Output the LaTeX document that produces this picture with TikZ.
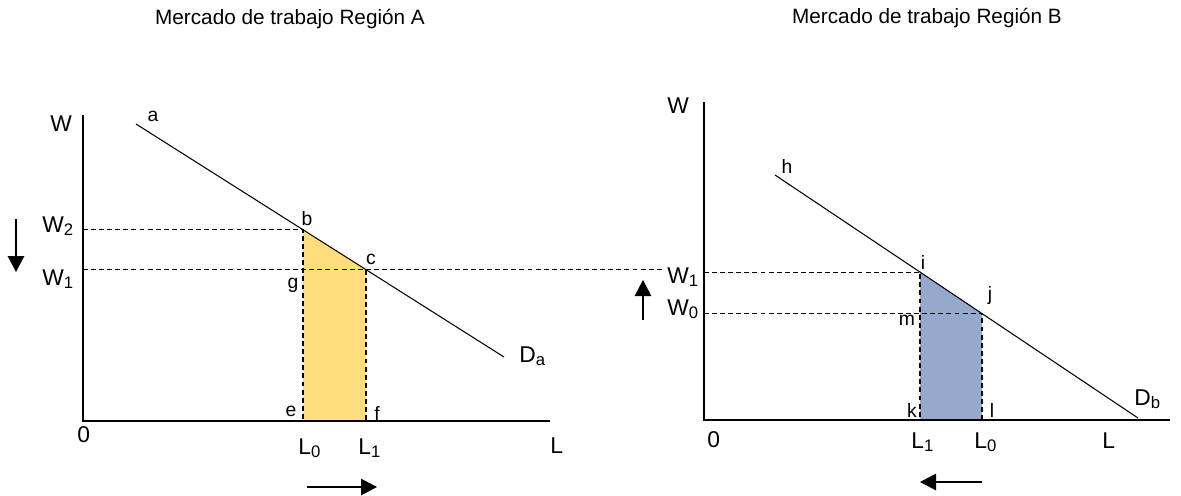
\documentclass[tikz,border=0pt]{standalone}
\usepackage{fontspec}
\setmainfont{Liberation Sans}
\usetikzlibrary{arrows.meta,positioning,calc}
\definecolor{areaA}{RGB}{255,221,125}
\definecolor{areaB}{RGB}{149,169,204}
\newcommand{\lowidx}[1]{\raisebox{-0.3ex}{\fontsize{9.5}{10}\selectfont #1}}

\begin{document}
\begin{tikzpicture}[
    x=0.02cm, y=-0.02cm,
    axisline/.style={line width=0.8pt},
    demand/.style={line width=0.6pt},
    guide/.style={line width=0.6pt, dash pattern=on 2.8pt off 1.8pt},
    shiftarrow/.style={line width=0.7pt, -{Triangle[length=0.32cm, width=0.33cm]}},
    big/.style={font=\fontsize{11.8}{14}\selectfont, inner sep=0pt},
    sym/.style={font=\fontsize{13}{15}\selectfont, inner sep=0pt, anchor=base west},
    pt/.style={font=\fontsize{11}{13}\selectfont, inner sep=0pt}
]
\useasboundingbox (0,0) rectangle (1181,495);

%% -- Titles ------------------------------------------------------
\node[big] (titleA) at (290,19) {Mercado de trabajo Región A};
\node[big] (titleB) at (927,18) {Mercado de trabajo Región B};

%% -- Region A: axes and demand ------------------------------------
\coordinate (oA) at (83,421);
\coordinate (yA) at (83,115);
\coordinate (xA) at (550,421);
\coordinate (a)  at (136,124);
\coordinate (da) at (504,357);
\coordinate (b)  at ($(a)!0.4538!(da)$);
\coordinate (c)  at ($(a)!0.625!(da)$);
\coordinate (link) at (663,0);

\fill[areaA] (b) -- (c) -- (c |- oA) -- (b |- oA) -- cycle;
\draw[guide] (b -| oA) -- (b) -- (b |- oA);
\draw[guide] (c -| oA) -- (c -| link);
\draw[guide] (c) -- (c |- oA);
\draw[axisline] (yA) -- (oA) -- (xA);
\draw[demand] (a) -- (da);

%% -- Region A: labels ---------------------------------------------
\node[sym] (WA)  at (50,131)  {W};
\node[sym] (W2A) at (42,232)  {W\lowidx{2}};
\node[sym] (W1A) at (42,285)  {W\lowidx{1}};
\node[sym] (zeroA) at (77,442) {0};
\node[sym] (L0A) at (298,454) {L\lowidx{0}};
\node[sym] (L1A) at (358,454) {L\lowidx{1}};
\node[sym] (LA)  at (550,453) {L};
\node[sym] (DA)  at (519,362) {D\lowidx{a}};
\node[pt] (la) at (153,116) {a};
\node[pt] (lb) at (307,219) {b};
\node[pt] (lc) at (371,259) {c};
\node[pt] (lg) at (293,285) {g};
\node[pt] (le) at (291,411) {e};
\node[pt] (lf) at (377,413) {f};

%% -- Region A: shift arrows ---------------------------------------
\coordinate (downS) at (16,219);
\coordinate (downE) at (16,272);
\coordinate (rightS) at (307,487);
\coordinate (rightE) at (377,487);
\draw[shiftarrow] (downS) -- (downE);
\draw[shiftarrow] (rightS) -- (rightE);

%% -- Region B: axes and demand ------------------------------------
\coordinate (oB) at (704,420);
\coordinate (yB) at (704,102);
\coordinate (xB) at (1170,420);
\coordinate (h)  at (775,175);
\coordinate (db) at (1138,418);
\coordinate (i)  at ($(h)!0.3994!(db)$);
\coordinate (j)  at ($(h)!0.5702!(db)$);

\fill[areaB] (i) -- (j) -- (j |- oB) -- (i |- oB) -- cycle;
\draw[guide] (i -| oB) -- (i) -- (i |- oB);
\draw[guide] (j -| oB) -- (j) -- (j |- oB);
\draw[axisline] (yB) -- (oB) -- (xB);
\draw[demand] (h) -- (db);

%% -- Region B: labels ---------------------------------------------
\node[sym] (WB)  at (667,113) {W};
\node[sym] (W1B) at (667,283) {W\lowidx{1}};
\node[sym] (W0B) at (667,315) {W\lowidx{0}};
\node[sym] (zeroB) at (707,447) {0};
\node[sym] (L1B) at (911,448) {L\lowidx{1}};
\node[sym] (L0B) at (974,448) {L\lowidx{0}};
\node[sym] (LB)  at (1102,448) {L};
\node[sym] (DB)  at (1134,405) {D\lowidx{b}};
\node[pt] (lh) at (787,166) {h};
\node[pt] (li) at (923,262) {i};
\node[pt] (lj) at (990,295) {j};
\node[pt] (lm) at (907,320) {m};
\node[pt] (lk) at (912,410) {k};
\node[pt] (ll) at (992,410) {l};

%% -- Region B: shift arrows ---------------------------------------
\coordinate (upS) at (643,320);
\coordinate (upE) at (643,280);
\coordinate (leftS) at (982,482);
\coordinate (leftE) at (920,482);
\draw[shiftarrow] (upS) -- (upE);
\draw[shiftarrow] (leftS) -- (leftE);

\end{tikzpicture}
\end{document}
